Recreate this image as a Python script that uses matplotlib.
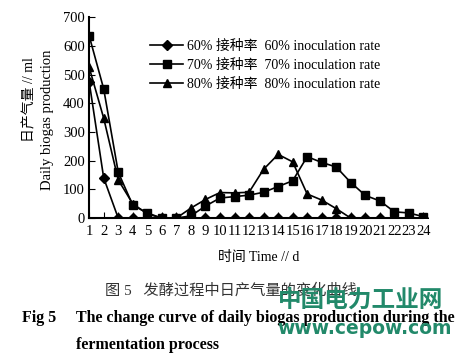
import numpy as np
import matplotlib.pyplot as plt

plt.rcParams['font.family'] = ['Liberation Serif', 'Noto Sans CJK SC']

days = list(range(1, 25))
rate60 = [475, 140, 0, 0, 0, 0, 0, 0, 0, 0, 0, 0, 0, 0, 0, 0, 0, 0, 0, 0, 0, 0, 0, 0]
rate70 = [635, 450, 160, 45, 18, 0, 0, 8, 42, 70, 75, 80, 90, 110, 130, 214, 194, 178, 124, 79, 60, 22, 18, 5]
rate80 = [525, 348, 133, 50, 15, 0, 0, 35, 65, 89, 88, 90, 170, 222, 196, 84, 63, 33, 0, 0, 0, 0, 0, 0]
labels = ['60% 接种率  60% inoculation rate',
          '70% 接种率  70% inoculation rate',
          '80% 接种率  80% inoculation rate']

fig = plt.figure(figsize=(4.62, 3.57), dpi=100)
ax = fig.add_axes([0.193, 0.389, 0.733, 0.563])

ax.plot(days, rate60, color='black', lw=1.2, marker='D', ms=5, label=labels[0])
ax.plot(days, rate70, color='black', lw=1.2, marker='s', ms=6, label=labels[1])
ax.plot(days, rate80, color='black', lw=1.2, marker='^', ms=6, label=labels[2])

ax.set_xlim(1, 24.3)
ax.set_ylim(0, 700)
ax.set_xticks(days)
ax.set_yticks(range(0, 701, 100))
ax.tick_params(direction='in', length=4, labelsize=10.5, pad=3)
ax.tick_params(axis='x', pad=5)
ax.spines['top'].set_visible(False)
ax.spines['right'].set_visible(False)
ax.spines['bottom'].set_linewidth(1.5)
ax.spines['left'].set_linewidth(1.5)
ax.spines['bottom'].set_bounds(1, 24)
ax.set_xlabel('时间 Time // d', fontsize=10, labelpad=9)

leg = ax.legend(loc='upper left', bbox_to_anchor=(0.163, 0.915), frameon=False,
                fontsize=10, handlelength=2.4, handletextpad=0.25, labelspacing=0.42,
                borderaxespad=0)

fig.text(0.065, 0.72, '日产气量 // ml', rotation=90, ha='center', va='center', fontsize=10)
fig.text(0.102, 0.665, 'Daily biogas production', rotation=90, ha='center', va='center', fontsize=10.5)

fig.text(0.5, 0.188, '图 5   发酵过程中日产气量的变化曲线', ha='center', va='center', fontsize=11, color='#333333')
fig.text(0.048, 0.108, 'Fig 5', ha='left', va='center', fontsize=11.5, fontweight='bold')
fig.text(0.165, 0.108, 'The change curve of daily biogas production during the',
         ha='left', va='center', fontsize=11.5, fontweight='bold')
fig.text(0.165, 0.033, 'fermentation process', ha='left', va='center', fontsize=11.5, fontweight='bold')

fig.text(0.78, 0.16, '中国电力工业网', ha='center', va='center', fontsize=17,
         fontweight='bold', color='#22896a', family=['Noto Sans CJK SC'])
fig.text(0.79, 0.081, 'www.cepow.com', ha='center', va='center', fontsize=13.5,
         fontweight='bold', color='#22896a', family=['DejaVu Sans'])

fig.savefig('out.png', dpi=100)
